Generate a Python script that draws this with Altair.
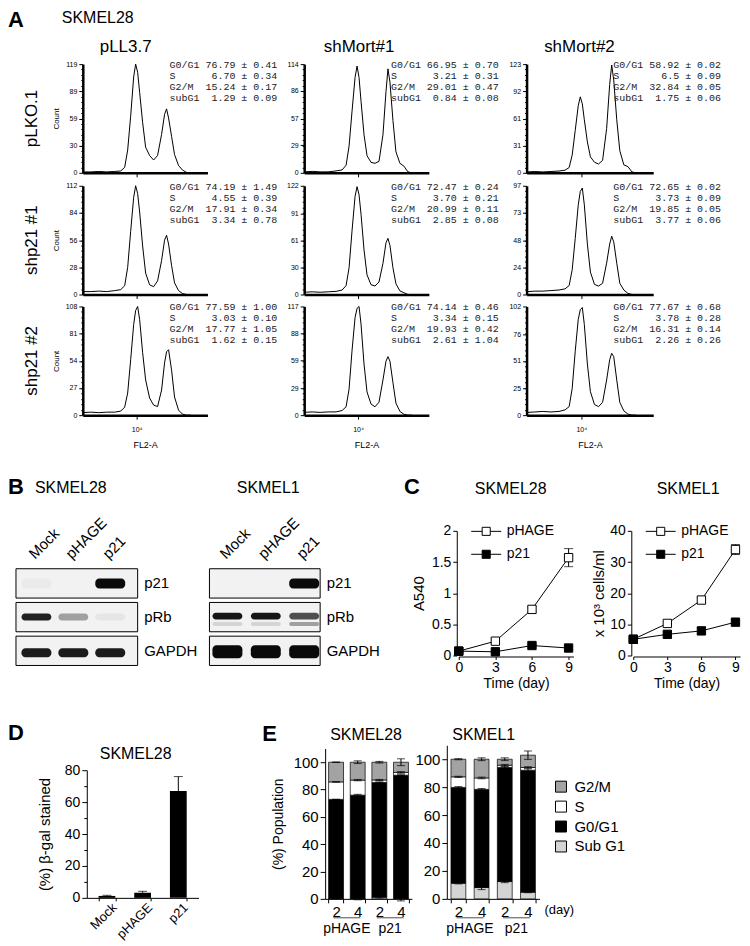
import altair as alt
import pandas as pd

W, H = 734, 930


def P(v):
    # page pixel -> canvas pixel (page has an 8px margin)
    return v - 8


FONT = "Liberation Sans"
MONO = "Liberation Mono"

# ------------------------------------------------------------------ data
# Panel A : FACS histograms (SKMEL28)
a_col_names = ["pLL3.7", "shMort#1", "shMort#2"]
a_row_names = ["pLKO.1", "shp21 #1", "shp21 #2"]
fl2a_log10 = [3.46, 3.54, 3.62, 3.70, 3.78, 3.84, 3.88, 3.91, 3.94, 3.97, 3.99, 4.01, 4.03, 4.06,
              4.09, 4.13, 4.17, 4.21, 4.25, 4.28, 4.30, 4.32, 4.35, 4.38, 4.42, 4.46, 4.50, 4.54]
count_r1c1 = [1, 1, 1.5, 1, 1.5, 2, 6, 25, 62, 105, 119, 110, 88, 55, 28, 19, 14, 19, 42, 64, 70, 60, 40, 20, 8, 3, 0.5, 0]
count_r1c2 = [1, 1.5, 1, 1, 2, 3, 8, 28, 65, 100, 112, 100, 75, 40, 18, 11, 10, 12, 40, 85, 109, 95, 55, 22, 10, 7, 1, 0]
count_r1c3 = [1, 1.5, 1, 1.5, 2, 3, 6, 20, 48, 76, 86, 78, 60, 35, 18, 12, 10, 14, 50, 100, 122, 105, 60, 25, 9, 7, 1, 0]
count_r2c1 = [3, 3, 3.5, 3, 4, 5, 9, 28, 65, 100, 112, 104, 85, 50, 22, 10, 8, 14, 35, 56, 61, 52, 30, 12, 4, 1, 0, 0]
count_r2c2 = [2.5, 3, 2.5, 3, 3.5, 5, 10, 30, 72, 110, 121, 112, 90, 50, 22, 11, 9.5, 14, 35, 58, 63, 55, 30, 12, 4, 2, 0, 0]
count_r2c3 = [2.5, 3, 3, 3.5, 4, 5, 8, 22, 50, 80, 92, 95, 80, 45, 20, 9, 7.5, 10, 28, 45, 52, 47, 28, 10, 4, 1, 0, 0]
count_r3c1 = [2.5, 3, 2.5, 3, 3, 4, 8, 22, 55, 90, 104, 108, 95, 62, 35, 17, 10, 8.5, 25, 52, 63, 65, 45, 18, 5, 1, 0, 0]
count_r3c2 = [3, 3.5, 3, 3.5, 3.5, 5, 9, 28, 70, 105, 115, 117, 98, 55, 25, 12, 9, 14, 38, 58, 63, 58, 35, 13, 4, 1, 0, 0]
count_r3c3 = [2.5, 3, 3.5, 3, 3.5, 5, 8, 25, 60, 90, 99, 101, 85, 48, 22, 10, 8, 12, 33, 52, 58, 55, 33, 12, 4, 1, 0, 0]
hist_counts = [[count_r1c1, count_r1c2, count_r1c3],
               [count_r2c1, count_r2c2, count_r2c3],
               [count_r3c1, count_r3c2, count_r3c3]]
a_ymax = [[119, 114, 123], [112, 122, 97], [108, 117, 102]]
a_yticks = [[[0, 30, 59, 89, 119], [0, 29, 57, 86, 114], [0, 31, 61, 92, 123]],
            [[0, 28, 56, 84, 112], [0, 30, 61, 91, 122], [0, 24, 48, 73, 97]],
            [[0, 27, 54, 81, 108], [0, 29, 59, 88, 117], [0, 25, 51, 76, 102]]]
stat_names = ["G0/G1", "S", "G2/M", "subG1"]
stat_mean = [[["76.79", "6.70", "15.24", "1.29"], ["66.95", "3.21", "29.01", "0.84"], ["58.92", "6.5", "32.84", "1.75"]],
             [["74.19", "4.55", "17.91", "3.34"], ["72.47", "3.70", "20.99", "2.85"], ["72.65", "3.73", "19.85", "3.77"]],
             [["77.59", "3.03", "17.77", "1.62"], ["74.14", "3.34", "19.93", "2.61"], ["77.67", "3.78", "16.31", "2.26"]]]
stat_err = [[["0.41", "0.34", "0.17", "0.09"], ["0.70", "0.31", "0.47", "0.08"], ["0.02", "0.09", "0.05", "0.06"]],
            [["1.49", "0.39", "0.34", "0.78"], ["0.24", "0.21", "0.11", "0.08"], ["0.02", "0.09", "0.05", "0.06"]],
            [["1.00", "0.10", "1.05", "0.15"], ["0.46", "0.15", "0.42", "1.04"], ["0.68", "0.28", "0.14", "0.26"]]]

# Panel B : western blots (band intensity 0..1)
blot_lanes = ["Mock", "pHAGE", "p21"]
blot_proteins = ["p21", "pRb", "GAPDH"]
b28_p21 = [0.03, 0.0, 1.0]
b28_prb = [0.9, 0.35, 0.05]
b28_gapdh = [0.92, 0.92, 0.92]
b1_p21 = [0.0, 0.0, 1.0]
b1_prb_upper = [0.95, 0.95, 0.7]
b1_prb_lower = [0.12, 0.12, 0.35]
b1_gapdh = [1.0, 1.0, 1.0]

# Panel C : growth curves
c_days = [0, 3, 6, 9]
c28_phage = [0.07, 0.23, 0.74, 1.57]
c28_phage_err = [0.01, 0.03, 0.04, 0.145]
c28_p21 = [0.07, 0.06, 0.16, 0.12]
c28_p21_err = [0.01, 0.01, 0.02, 0.02]
c1_phage = [5.2, 10.3, 17.8, 34.0]
c1_phage_err = [0.3, 0.6, 0.8, 1.6]
c1_p21 = [5.2, 6.8, 7.9, 10.7]
c1_p21_err = [0.3, 0.4, 1.1, 0.6]

# Panel D : beta-gal
d_conds = ["Mock", "pHAGE", "p21"]
d_vals = [1.2, 3.2, 67.0]
d_errs = [0.4, 0.9, 9.0]

# Panel E : cell cycle distribution (stack bottom -> top)
e_keys = ["pHAGE|2", "pHAGE|4", "p21|2", "p21|4"]
e_phases = ["Sub G1", "G0/G1", "S", "G2/M"]
e28_subg1 = [0.3, 0.3, 1.2, 0.3]
e28_g0g1 = [72.5, 75.6, 84.0, 90.2]
e28_s = [12.8, 11.0, 1.8, 2.0]
e28_g2m = [14.4, 13.1, 13.0, 7.5]
e28_err = [[0.1, 0.1, 0.2, 0.1], [1.0, 0.6, 0.5, 1.0], [0.6, 0.4, 0.4, 0.6], [1.8, 0.3, 0.6, 2.5]]
e1_subg1 = [11.2, 8.1, 12.4, 4.8]
e1_g0g1 = [68.6, 70.3, 81.7, 87.3]
e1_s = [7.6, 8.2, 1.6, 2.0]
e1_g2m = [12.6, 13.4, 4.3, 8.8]
e1_err = [[0.5, 0.6, 0.4, 0.4], [1.5, 0.6, 0.6, 1.0], [0.8, 0.6, 0.6, 1.0], [0.4, 1.0, 0.5, 3.0]]

layers = []


def text_item(s, x, y, size, weight="normal", angle=0, align="center", baseline="middle", font=FONT):
    d = pd.DataFrame({"label": [s]})
    return alt.Chart(d).mark_text(align=align, baseline=baseline, fontSize=size, fontWeight=weight,
                                  angle=angle, font=font, color="black").encode(
        text="label:N", x=alt.value(P(x)), y=alt.value(P(y)))


# ------------------------------------------------------------------ panel A
a_col_x = [(83, 208), (305, 430), (528, 655)]
a_row_y = [(62, 171), (184, 293), (305, 414)]
layers.append(text_item("A", 8, 8, 22, "bold", align="left", baseline="top"))
layers.append(text_item("SKMEL28", 62, 16, 16, align="left"))
title_cx = [126, 360, 581]
for c in range(3):
    layers.append(text_item(a_col_names[c], title_cx[c], 45, 17))
for r in range(3):
    layers.append(text_item(a_row_names[r], 32, (a_row_y[r][0] + a_row_y[r][1]) / 2, 17, angle=270))

for r in range(3):
    for c in range(3):
        xl, xr = a_col_x[c]
        yt, yb = a_row_y[r]
        df = pd.DataFrame({"fl2a": [10 ** v for v in fl2a_log10], "count": hist_counts[r][c]})
        xs = alt.Scale(type="log", domain=[10 ** 3.46, 10 ** 4.71], range=[P(xl), P(xr)], nice=False)
        ys = alt.Scale(domain=[0, a_ymax[r][c]], range=[P(yb), P(yt)], nice=False, zero=False)
        xax = dict(orient="bottom", offset=P(yb) - H, values=[10000], tickSize=4, tickWidth=1,
                   domainWidth=2.5, title=None, labels=False)
        if r == 2:
            xax.update(labels=True, labelExpr="'10⁴'", labelFontSize=7, labelPadding=6,
                       title="FL2-A", titleFontSize=9, titlePadding=8)
        yax = dict(orient="left", offset=-P(xl), values=a_yticks[r][c], tickSize=4, tickWidth=1,
                   domainWidth=2.5, labelFontSize=7, labelPadding=2, title=None)
        if c == 0:
            yax.update(title="Count", titleFontSize=8, titlePadding=5)
        layers.append(alt.Chart(df).mark_line(color="black", strokeWidth=1).encode(
            x=alt.X("fl2a:Q", scale=xs, axis=alt.Axis(**xax)),
            y=alt.Y("count:Q", scale=ys, axis=alt.Axis(**yax))))
        minor = [a_ymax[r][c] * i / 20 for i in range(1, 20)]
        layers.append(alt.Chart(df).mark_line(opacity=0).encode(
            x=alt.X("fl2a:Q", scale=xs, axis=None),
            y=alt.Y("count:Q", scale=ys, axis=alt.Axis(orient="left", offset=-P(xl), values=minor,
                                                        labels=False, tickSize=2, tickWidth=1,
                                                        domain=False, title=None))))
        lines = []
        for k in range(4):
            lines.append(f"{stat_names[k]:<5} {stat_mean[r][c][k]:>5} ± {stat_err[r][c][k]}".replace(" ", "\u00a0"))
        tdf = pd.DataFrame({"txt": ["\n".join(lines)]})
        layers.append(alt.Chart(tdf).mark_text(align="left", baseline="top", font=MONO, fontSize=10,
                                               lineHeight=11, lineBreak="\n", color="#1a1a1a").encode(
            text="txt:N", x=alt.value(P(xl + 87)), y=alt.value(P(yt - 4))))

# ------------------------------------------------------------------ panel B
layers.append(text_item("B", 8, 476, 22, "bold", align="left", baseline="top"))
layers.append(text_item("SKMEL28", 71, 487, 16))
layers.append(text_item("SKMEL1", 269, 487, 16))

rows_scale = alt.Scale(domain=blot_proteins, range=[P(568), P(665)], paddingInner=0.13, paddingOuter=0)


def blot(box, lane_rng, lane_pi, band_rows):
    lane_scale = alt.Scale(domain=blot_lanes, range=[P(lane_rng[0]), P(lane_rng[1])],
                           paddingInner=lane_pi, paddingOuter=0)
    frame = alt.Chart(pd.DataFrame({"protein": blot_proteins})).mark_rect(
        fill="#f2f2f2", stroke="black", strokeWidth=1).encode(
        y=alt.Y("protein:N", scale=rows_scale,
                axis=alt.Axis(orient="right", offset=P(box[1]) - W, ticks=False, domain=False,
                              labelFontSize=15, labelPadding=6, title=None)),
        x=alt.value(P(box[0])), x2=alt.value(P(box[1])))
    out = [frame]
    for i, (prot, levels, h, yo) in enumerate(band_rows):
        bdf = pd.DataFrame({"lane": blot_lanes, "protein": [prot] * 3, "level": levels})
        if i == 0:
            xax = alt.Axis(orient="top", offset=-P(557), labelAngle=-45, labelAlign="left",
                           labelBaseline="middle", labelOffset=-5, ticks=False, tickSize=0,
                           domain=False, labelPadding=2, labelFontSize=15, title=None)
        else:
            xax = None
        out.append(alt.Chart(bdf).mark_rect(height=h, yOffset=yo, cornerRadius=4, color="#0a0a0a").encode(
            x=alt.X("lane:N", scale=lane_scale, axis=xax),
            y=alt.Y("protein:N", scale=rows_scale, axis=None),
            opacity=alt.Opacity("level:Q", scale=alt.Scale(domain=[0, 1], range=[0, 1]), legend=None)))
    return out


layers += blot((16, 138), (21.5, 125.5), 0.19,
               [("p21", b28_p21, 10, 0), ("pRb", b28_prb, 7, 0), ("GAPDH", b28_gapdh, 9, 2)])
layers += blot((210, 321), (213, 320), 0.22,
               [("p21", b1_p21, 10, 0), ("pRb", b1_prb_upper, 7, -1), ("pRb", b1_prb_lower, 4, 7),
                ("GAPDH", b1_gapdh, 13, 1)])

# ------------------------------------------------------------------ panel C
layers.append(text_item("C", 405, 476, 22, "bold", align="left", baseline="top"))
layers.append(text_item("SKMEL28", 512, 488, 16))
layers.append(text_item("SKMEL1", 690, 488, 16))

LEG_PATH = "M-1,0H-0.27M0.27,0H1M-0.27,-0.27H0.27V0.27H-0.27Z"


def growth(phage, phage_err, p21, p21_err, xr, ydom, yvals, ytitle, ytpad, legx):
    rows = []
    for s, v, e in (("pHAGE", phage, phage_err), ("p21", p21, p21_err)):
        for d, vv, ee in zip(c_days, v, e):
            rows.append({"day": d, "series": s, "val": vv, "lo": vv - ee, "hi": vv + ee})
    df = pd.DataFrame(rows)
    xs = alt.Scale(domain=[0, 9.4], range=[P(xr[0]), P(xr[1])], nice=False, zero=False)
    ys = alt.Scale(domain=ydom, range=[P(655), P(530)], nice=False, zero=False)
    line = alt.Chart(df).mark_line(color="black", strokeWidth=1).encode(
        x=alt.X("day:Q", scale=xs, axis=alt.Axis(orient="bottom", offset=P(656) - H, values=c_days,
                                                 tickSize=3, labelFontSize=14, labelPadding=1,
                                                 title="Time (day)", titleFontSize=14, titlePadding=2)),
        y=alt.Y("val:Q", scale=ys, axis=alt.Axis(orient="left", offset=-P(xr[0] - 2), values=yvals,
                                                 format=".1~f", tickSize=4, labelFontSize=14, labelPadding=2,
                                                 title=ytitle, titleFontSize=15, titlePadding=ytpad)),
        detail="series:N")
    rule = alt.Chart(df).mark_rule(color="black", strokeWidth=1).encode(
        x=alt.X("day:Q", scale=xs, axis=None), y=alt.Y("lo:Q", scale=ys, axis=None), y2="hi:Q")
    cap_lo = alt.Chart(df).mark_tick(orient="horizontal", size=9, thickness=1, color="black").encode(
        x=alt.X("day:Q", scale=xs, axis=None), y=alt.Y("lo:Q", scale=ys, axis=None))
    cap_hi = alt.Chart(df).mark_tick(orient="horizontal", size=9, thickness=1, color="black").encode(
        x=alt.X("day:Q", scale=xs, axis=None), y=alt.Y("hi:Q", scale=ys, axis=None))
    pts = alt.Chart(df).mark_point(shape="square", filled=True, size=70, stroke="black",
                                   strokeWidth=1, opacity=1).encode(
        x=alt.X("day:Q", scale=xs, axis=None), y=alt.Y("val:Q", scale=ys, axis=None),
        fill=alt.Fill("series:N", scale=alt.Scale(domain=["pHAGE", "p21"], range=["white", "black"]),
                      legend=alt.Legend(orient="none", legendX=P(legx), legendY=P(515), title=None,
                                        symbolType=LEG_PATH, symbolSize=900, symbolStrokeColor="black",
                                        symbolStrokeWidth=1, labelFontSize=14, labelFont=FONT,
                                        labelOffset=5, rowPadding=-10, padding=0, labelColor="black")))
    return [line, rule, cap_lo, cap_hi, pts]


layers += growth(c28_phage, c28_phage_err, c28_p21, c28_p21_err, (460, 575), [0, 2],
                 [0, 0.5, 1, 1.5, 2], "A540", 5, 472)
layers += growth(c1_phage, c1_phage_err, c1_p21, c1_p21_err, (635, 742), [0, 40],
                 [0, 10, 20, 30, 40], "x 10³ cells/ml", 3, 647)

# ------------------------------------------------------------------ panel D
layers.append(text_item("D", 8, 723, 22, "bold", align="left", baseline="top"))
layers.append(text_item("SKMEL28", 136, 754, 16))
ddf = pd.DataFrame({"cond": d_conds, "val": d_vals, "top": [v + e for v, e in zip(d_vals, d_errs)]})
dxs = alt.Scale(domain=d_conds, range=[P(87), P(199)], paddingInner=0.53, paddingOuter=0.33)
dys = alt.Scale(domain=[0, 80], range=[P(898), P(770)], nice=False, zero=False)
layers.append(alt.Chart(ddf).mark_rule(color="black", strokeWidth=1).encode(
    x=alt.X("cond:N", scale=dxs, axis=None), y=alt.Y("val:Q", scale=dys, axis=None), y2="top:Q"))
layers.append(alt.Chart(ddf).mark_tick(orient="horizontal", size=9, thickness=1, color="black").encode(
    x=alt.X("cond:N", scale=dxs, axis=None), y=alt.Y("top:Q", scale=dys, axis=None)))
layers.append(alt.Chart(ddf).mark_bar(color="black").encode(
    x=alt.X("cond:N", scale=dxs, axis=alt.Axis(orient="bottom", offset=P(898) - H, labelAngle=-45,
                                               labelAlign="right", labelBaseline="top", tickBand="extent",
                                               tickSize=3, labelFontSize=13, labelPadding=0, labelOffset=3,
                                               title=None)),
    y=alt.Y("val:Q", scale=dys, axis=alt.Axis(orient="left", offset=-P(87), values=[0, 20, 40, 60, 80],
                                              tickSize=5, labelFontSize=14, labelPadding=2,
                                              title="(%) β-gal stained", titleFontSize=15, titlePadding=12))))
layers.append(alt.Chart(ddf).mark_bar(opacity=0).encode(
    x=alt.X("cond:N", scale=dxs, axis=None),
    y=alt.Y("val:Q", scale=dys, axis=alt.Axis(orient="left", offset=-P(87), values=[10, 30, 50, 70],
                                              tickSize=3, labels=False, domain=False, title=None))))

# ------------------------------------------------------------------ panel E
layers.append(text_item("E", 263, 724, 22, "bold", align="left", baseline="top"))
layers.append(text_item("SKMEL28", 367, 735, 16))
layers.append(text_item("SKMEL1", 485, 735, 16))
layers.append(text_item("(day)", 546, 910, 13, align="left"))

phase_fill = alt.Scale(domain=["G2/M", "S", "G0/G1", "Sub G1"],
                       range=["#a3a3a3", "white", "black", "#d4d4d4"])


def cycle(segs, errs, xr, ybot, y100, pi, po, ytitle, legend):
    rows, erows = [], []
    for k, key in enumerate(e_keys):
        cum = 0
        for p, phase in enumerate(e_phases):
            v = segs[p][k]
            rows.append({"key": key, "phase": phase, "ord": p, "val": v})
            cum += v
            e = errs[k][p]
            erows.append({"key": key, "lo": cum - e, "hi": cum + e})
    df = pd.DataFrame(rows)
    edf = pd.DataFrame(erows)
    px_per = (ybot - y100) / 100.0
    xs = alt.Scale(domain=e_keys, range=[P(xr[0]), P(xr[1])], paddingInner=pi, paddingOuter=po)
    ys = alt.Scale(domain=[0, 110], range=[P(ybot), P(ybot - 110 * px_per)], nice=False, zero=False)
    yax = dict(orient="left", offset=-P(xr[0]), values=[0, 20, 40, 60, 80, 100], tickSize=5,
               labelFontSize=15, labelPadding=2, title=None)
    if ytitle:
        yax.update(title=ytitle, titleFontSize=14, titlePadding=8)
    leg = None
    if legend:
        leg = alt.Legend(orient="none", legendX=P(555), legendY=P(779), title=None, symbolType="square",
                         symbolSize=121, symbolStrokeColor="black", symbolStrokeWidth=1,
                         labelFontSize=15, labelFont=FONT, labelOffset=6, rowPadding=4, padding=0,
                         labelColor="black")
    fill = alt.Fill("phase:N", scale=phase_fill, legend=leg)
    bars = alt.Chart(df).mark_bar(stroke="black", strokeWidth=0.7).encode(
        x=alt.X("key:N", scale=xs, axis=alt.Axis(orient="bottom", offset=P(ybot) - H, tickBand="extent",
                                                 labelExpr="split(datum.label, '|')[1]", labelAngle=0,
                                                 tickSize=4, labelFontSize=15, labelPadding=2, title=None)),
        y=alt.Y("val:Q", stack="zero", scale=ys, axis=alt.Axis(**yax)),
        fill=fill, order=alt.Order("ord:Q"))
    rule = alt.Chart(edf).mark_rule(color="black", strokeWidth=1).encode(
        x=alt.X("key:N", scale=xs, axis=None), y=alt.Y("lo:Q", scale=ys, axis=None), y2="hi:Q")
    cl = alt.Chart(edf).mark_tick(orient="horizontal", size=8, thickness=1, color="black").encode(
        x=alt.X("key:N", scale=xs, axis=None), y=alt.Y("lo:Q", scale=ys, axis=None))
    ch = alt.Chart(edf).mark_tick(orient="horizontal", size=8, thickness=1, color="black").encode(
        x=alt.X("key:N", scale=xs, axis=None), y=alt.Y("hi:Q", scale=ys, axis=None))
    gdf = pd.DataFrame({"group": ["pHAGE", "p21"]})
    gs = alt.Scale(domain=["pHAGE", "p21"], range=[P(xr[0]), P(xr[1])], paddingInner=0, paddingOuter=0)
    under = alt.Chart(gdf).mark_tick(orient="horizontal", size=27, thickness=1, color="black").encode(
        x=alt.X("group:N", scale=gs, axis=None), y=alt.value(P(918)))
    glab = alt.Chart(gdf).mark_text(fontSize=14, font=FONT, baseline="middle", color="black").encode(
        x=alt.X("group:N", scale=gs, axis=None), y=alt.value(P(929)), text="group:N")
    return [bars, rule, cl, ch, under, glab]


layers += cycle([e28_subg1, e28_g0g1, e28_s, e28_g2m], e28_err, (326, 413), 899, 762, 0.31, 0.16,
                "(%) Population", False)
layers += cycle([e1_subg1, e1_g0g1, e1_s, e1_g2m], e1_err, (448, 541), 899, 759, 0.36, 0.18,
                None, True)

chart = alt.layer(*layers).resolve_scale(
    x="independent", y="independent", fill="independent", opacity="independent"
).properties(width=W, height=H, padding=0).configure_view(stroke=None).configure_axis(
    labelFont=FONT, titleFont=FONT, labelColor="black", titleColor="black", domainColor="black",
    tickColor="black", titleFontWeight="normal", grid=False, labelOverlap=False, labelFlush=False
)

chart.save("out.html", embed_options={"renderer": "svg", "actions": False})
